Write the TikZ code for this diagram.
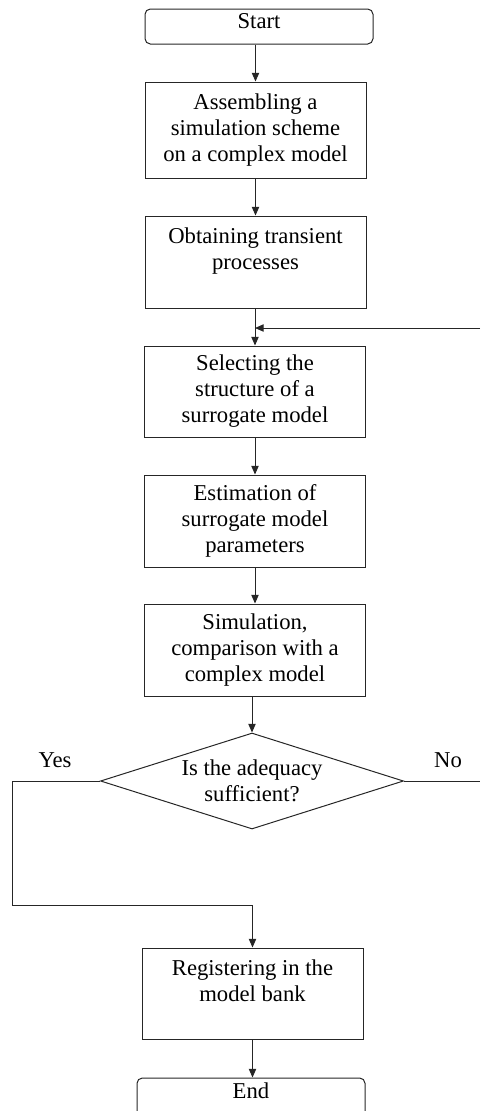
\documentclass[tikz,border=0pt]{standalone}
\usepackage{fontspec}
\setmainfont{Liberation Serif}
\usetikzlibrary{shapes.geometric,arrows.meta,calc}
\begin{document}
\begin{tikzpicture}[x=0.75pt,y=-0.75pt,
  every node/.style={font=\fontsize{17}{19.5}\selectfont, text=black},
  ln/.style={draw=black!85, line width=0.75pt},
  procbox/.style={ln, rectangle, align=center, inner sep=0pt, minimum width=165.75pt},
  termbox/.style={ln, rectangle, rounded corners=4pt, inner sep=0pt, minimum width=171pt},
  decbox/.style={ln, diamond, aspect=3.16, inner sep=0pt, align=center, minimum width=227.25pt, minimum height=72pt},
  arr/.style={ln, -{Triangle[length=6.5pt,width=5.5pt]}},
  lbl/.style={inner sep=0pt}
]
\useasboundingbox (0,0) rectangle (480,1111);

\node[termbox, minimum height=26.25pt, text depth=8pt] (start) at (259,26.5) {Start};
\node[procbox, minimum height=72pt] (b1) at (255.5,130) {Assembling a\\simulation scheme\\on a complex model};
\node[procbox, minimum height=69pt] (b2) at (255.5,262) {Obtaining transient\\processes\\\mbox{}};
\node[procbox, minimum height=68.25pt] (b3) at (255,391.5) {Selecting the\\structure of a\\surrogate model};
\node[procbox, minimum height=69pt] (b4) at (255,521) {Estimation of\\surrogate model\\parameters};
\node[procbox, minimum height=69pt] (b5) at (255,650) {Simulation,\\comparison with a\\complex model};
\node[decbox] (d) at (252,781) {Is the adequacy\\sufficient?};
\node[lbl] (yes) at (55,760) {Yes};
\node[lbl] (no) at (448,760) {No};
\node[procbox, minimum height=68.25pt] (b6) at (252.5,993.5) {Registering in the\\model bank\\\mbox{}};
\node[termbox, minimum height=30pt, text depth=11pt] (end) at (251,1098) {End};

\coordinate (fbR) at (480,328);
\coordinate (noR) at (480,781);
\coordinate (yl) at (12,781);
\coordinate (yb) at (12,905);

\draw[arr] (start.south -| b1.north) -- (b1.north);
\draw[arr] (b1.south -| b2.north) -- (b2.north);
\draw[arr] (b2.south -| b3.north) -- (b3.north);
\draw[arr] (fbR) -- (fbR -| b3.north);
\draw[arr] (b3.south -| b4.north) -- (b4.north);
\draw[arr] (b4.south -| b5.north) -- (b5.north);
\draw[arr] (b5.south -| d.north) -- (d.north);
\draw[ln] (d.east) -- (noR);
\draw[arr] (d.west) -- (yl) -- (yb) -| (b6.north);
\draw[arr] (b6.south) -- (b6.south |- end.north);
\end{tikzpicture}
\end{document}
